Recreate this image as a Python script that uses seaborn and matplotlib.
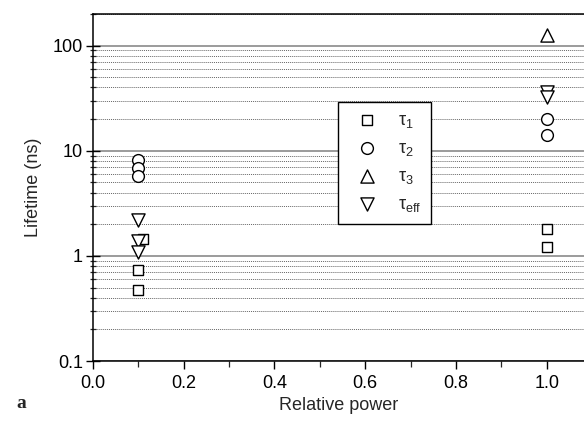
import numpy as np
import pandas as pd
import matplotlib
matplotlib.use("Agg")
import matplotlib.pyplot as plt
import seaborn as sns
from matplotlib.ticker import FixedLocator, FuncFormatter, MultipleLocator

# ---- data ----
series_names = [r"$\tau_1$", r"$\tau_2$", r"$\tau_3$", r"$\tau_{\mathrm{eff}}$"]
tau1_x = [0.10, 0.10, 0.11, 1.00, 1.00]
tau1_y = [0.74, 0.475, 1.45, 1.80, 1.21]
tau2_x = [0.10, 0.10, 0.10, 1.00, 1.00]
tau2_y = [8.2, 6.85, 5.7, 20.0, 14.0]
tau3_x = [1.00]
tau3_y = [127.0]
taueff_x = [0.10, 0.10, 0.10, 1.00, 1.00]
taueff_y = [2.2, 1.38, 1.10, 36.0, 32.5]
y_major = [0.1, 1, 10, 100]
x_label = "Relative power"
y_label = "Lifetime (ns)"

sns.set_style("ticks")
plt.rcParams["font.family"] = ["Liberation Sans", "DejaVu Sans"]
plt.rcParams["mathtext.fontset"] = "custom"
plt.rcParams["mathtext.rm"] = "Liberation Sans"
plt.rcParams["mathtext.it"] = "Liberation Sans"
plt.rcParams["mathtext.default"] = "regular"

fig = plt.figure(figsize=(5.84, 4.26), dpi=100)
ax = fig.add_axes([92.7 / 584, 1 - 361 / 426, 1 - 92.7 / 584, (361 - 14) / 426])

frames = []
for name, xs, ys in [(series_names[0], tau1_x, tau1_y),
                     (series_names[1], tau2_x, tau2_y),
                     (series_names[2], tau3_x, tau3_y),
                     (series_names[3], taueff_x, taueff_y)]:
    frames.append(pd.DataFrame({"power": xs, "lifetime": ys, "series": name}))
df = pd.concat(frames, ignore_index=True)

markers = {series_names[0]: "s", series_names[1]: "o",
           series_names[2]: "^", series_names[3]: "v"}
sizes = {series_names[0]: 58, series_names[1]: 72,
         series_names[2]: 90, series_names[3]: 90}

for name in series_names:
    sub = df[df["series"] == name]
    sns.scatterplot(data=sub, x="power", y="lifetime", marker=markers[name],
                    s=sizes[name], color="white", edgecolor="black",
                    linewidth=1.0, label=name, ax=ax, zorder=5, legend=True)

ax.set_yscale("log")
ax.set_ylim(0.1, 200)
ax.set_xlim(0, (584 - 92.7) / 454)

ax.yaxis.set_major_locator(FixedLocator(y_major))
ax.yaxis.set_major_formatter(FuncFormatter(lambda v, p: f"{v:g}"))
minor = [m * 10.0 ** e for e in range(-1, 3) for m in range(2, 10)]
ax.yaxis.set_minor_locator(FixedLocator(minor))
ax.yaxis.set_minor_formatter(FuncFormatter(lambda v, p: ""))
ax.xaxis.set_major_locator(MultipleLocator(0.2))
ax.xaxis.set_major_formatter(FuncFormatter(lambda v, p: f"{v:.1f}"))
ax.xaxis.set_minor_locator(MultipleLocator(0.1))

ax.grid(False)
ax.yaxis.grid(True, which="major", color="#8a8a8a", linewidth=1.2, linestyle="-", zorder=0)
ax.yaxis.grid(True, which="minor", color="#666666", linewidth=0.7, linestyle=(0, (1, 1)), zorder=0)
ax.set_axisbelow(True)

for s in ["left", "bottom", "top"]:
    ax.spines[s].set_visible(True)
    ax.spines[s].set_color("black")
    ax.spines[s].set_linewidth(1.1)
ax.spines["right"].set_visible(False)

ax.tick_params(axis="y", which="major", direction="inout", length=10, width=1.0,
               labelsize=13, colors="black", pad=2)
ax.tick_params(axis="y", which="minor", direction="inout", length=5, width=0.9)
ax.tick_params(axis="x", which="major", direction="out", length=6, width=1.0,
               labelsize=13, colors="black", pad=4)
ax.tick_params(axis="x", which="minor", direction="out", length=4, width=0.9)

ax.set_xlabel(x_label, fontsize=13, labelpad=4)
ax.set_ylabel(y_label, fontsize=13, labelpad=8)

leg = ax.legend(loc="upper left", bbox_to_anchor=(338 / 584, 1 - 102 / 426),
                bbox_transform=fig.transFigure, frameon=True, fancybox=False,
                fontsize=13, labelspacing=0.55, borderpad=0.55, handletextpad=0.67,
                borderaxespad=0, markerscale=1.0, handlelength=2.1)
leg.get_frame().set_edgecolor("black")
leg.get_frame().set_linewidth(1.0)
leg.get_frame().set_alpha(1)
leg.set_zorder(10)

fig.text(16 / 584, 1 - 404 / 426, "a", fontsize=14, fontweight="bold",
         family=["Liberation Serif", "DejaVu Serif"], va="center", ha="left")

fig.savefig("out.png", dpi=100)
